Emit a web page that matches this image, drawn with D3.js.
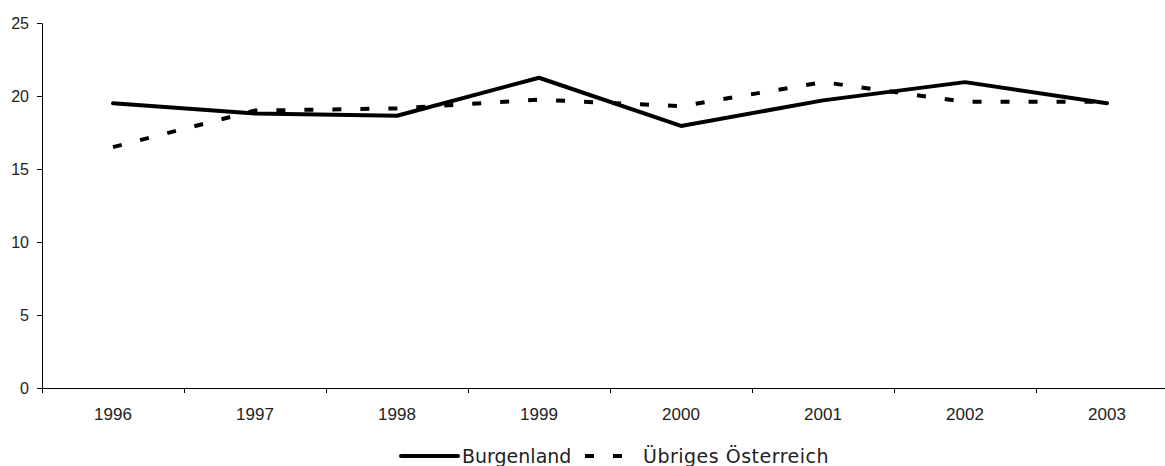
<!DOCTYPE html>
<html>
<head>
<meta charset="utf-8">
<script src="https://cdn.jsdelivr.net/npm/d3@7"></script>
<style>
  html, body { margin: 0; padding: 0; background: #fff; }
  svg { display: block; }
  text { font-family: "Liberation Sans", Arial, sans-serif; fill: #222; }
  .legend text { font-family: "DejaVu Sans", Verdana, sans-serif; }
</style>
</head>
<body>
<svg id="chart" width="1165" height="466"></svg>
<script>
// Years on the horizontal axis
const years = ["1996", "1997", "1998", "1999", "2000", "2001", "2002", "2003"];
// Series values
const burgenland = [19.5, 18.8, 18.65, 21.25, 17.95, 19.7, 20.95, 19.5];
const uebrigesOesterreich = [16.5, 19.0, 19.15, 19.75, 19.3, 20.95, 19.6, 19.6];
// Y axis tick values
const yTicks = [0, 5, 10, 15, 20, 25];

const seriesNames = ["Burgenland", "Übriges Österreich"];

const svg = d3.select("#chart");

const plotLeft = 42, plotRight = 1178, plotTop = 23, plotBottom = 388;

const x = d3.scaleBand().domain(years).range([plotLeft, plotRight]).padding(0);
const xEdge = d3.scaleLinear().domain([0, years.length]).range([plotLeft, plotRight]);
const y = d3.scaleLinear().domain([0, 25]).range([plotBottom, plotTop]);

// Y axis
const yAxis = svg.append("g")
  .attr("transform", `translate(${plotLeft},0)`)
  .call(d3.axisLeft(y).tickValues(yTicks).tickSize(5).tickSizeOuter(0).tickPadding(8));
yAxis.select(".domain").attr("stroke", "#000");
yAxis.selectAll(".tick line").attr("stroke", "#000");
yAxis.selectAll("text").style("font-size", "16px").attr("fill", "#222");

// X axis: boundary ticks between categories
const xTickAxis = svg.append("g")
  .attr("transform", `translate(0,${plotBottom})`)
  .call(d3.axisBottom(xEdge).tickValues(d3.range(0, years.length + 1)).tickSize(5).tickSizeOuter(0).tickFormat(""));
xTickAxis.select(".domain").attr("stroke", "#000");
xTickAxis.selectAll(".tick line").attr("stroke", "#000");

// X axis labels centred in each category
const xLabelAxis = svg.append("g")
  .attr("transform", `translate(0,${plotBottom})`)
  .call(d3.axisBottom(x).tickSize(0).tickPadding(20));
xLabelAxis.select(".domain").remove();
xLabelAxis.selectAll("text").style("font-size", "17px").attr("fill", "#222");

const line = d3.line()
  .x((d, i) => x(years[i]) + x.bandwidth() / 2)
  .y(d => y(d));

// Dashed series first, solid series on top
svg.append("path")
  .datum(uebrigesOesterreich)
  .attr("d", line)
  .attr("fill", "none")
  .attr("stroke", "#000")
  .attr("stroke-width", 4)
  .attr("stroke-dasharray", "9,19");

svg.append("path")
  .datum(burgenland)
  .attr("d", line)
  .attr("fill", "none")
  .attr("stroke", "#000")
  .attr("stroke-width", 4)
  .attr("stroke-linejoin", "round")
  .attr("stroke-linecap", "round");

// Legend
const legend = svg.append("g").attr("class", "legend").attr("transform", "translate(0,456)");
legend.append("line")
  .attr("x1", 401).attr("x2", 458).attr("y1", 0).attr("y2", 0)
  .attr("stroke", "#000").attr("stroke-width", 4).attr("stroke-linecap", "round");
legend.append("text")
  .attr("x", 462).attr("y", 7)
  .style("font-size", "19px")
  .text(seriesNames[0]);
legend.append("line")
  .attr("x1", 585).attr("x2", 622).attr("y1", 0).attr("y2", 0)
  .attr("stroke", "#000").attr("stroke-width", 4).attr("stroke-dasharray", "9,19");
legend.append("text")
  .attr("x", 643).attr("y", 7)
  .style("font-size", "19px")
  .style("letter-spacing", "0.5px")
  .text(seriesNames[1]);
</script>
</body>
</html>
